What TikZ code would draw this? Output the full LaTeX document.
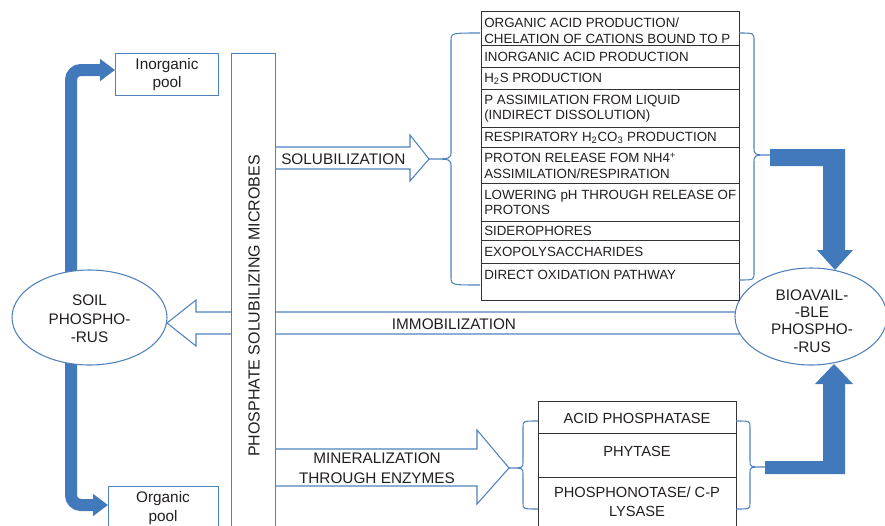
\documentclass[tikz,border=0pt]{standalone}
\usepackage{fontspec}
\setmainfont{Liberation Sans}
\usetikzlibrary{arrows.meta,shapes.geometric}
\definecolor{lineblue}{RGB}{79,129,189}
\definecolor{fatblue}{RGB}{66,121,187}
\definecolor{ink}{RGB}{35,31,32}

% curly brace: end x, spine x, tip x, top y, tip y, bottom y, corner size
\newcommand\bracepath[7]{%
  \draw[bl] (#1,#4) .. controls (#2,#4) .. (#2,#4+#7) -- (#2,#5-#7)
    .. controls (#2,#5) .. (#3,#5) .. controls (#2,#5) .. (#2,#5+#7)
    -- (#2,#6-#7) .. controls (#2,#6) .. (#1,#6);}

\begin{document}
\begin{tikzpicture}[x=0.75pt,y=-0.75pt,
  bl/.style={draw=lineblue, line width=0.8pt},
  box/.style={bl, fill=white, inner sep=0pt, anchor=north west},
  fatline/.style={draw=fatblue, line width=9pt, rounded corners=7.5pt,
    -{Triangle[length=11.25pt,width=16pt]}},
  fat/.style={fill=fatblue, draw=none},
  lbl/.style={text=ink, inner sep=0pt, align=center,
    font=\fontsize{11.5}{14}\selectfont},
  listrow/.style={draw=black!80, line width=0.9pt, fill=white, inner sep=0pt,
    anchor=north west, minimum width=193.5pt},
  rowtxt/.style={text=ink, inner sep=0pt, anchor=west, align=left,
    font=\fontsize{10}{11.6}\selectfont},
  enzrow/.style={draw=black!80, line width=0.9pt, fill=white, inner sep=0pt,
    anchor=north west, minimum width=148.5pt},
  enztxt/.style={text=ink, inner sep=0pt, align=center,
    font=\fontsize{11}{14}\selectfont}]
\clip (0,0) rectangle (885,525);

% soil phosphorus feeding the two pools
\draw[fatline] (71,300) -- (71,70) -- (115,70);
\draw[fatline] (71,340) -- (71,505) -- (108,505);

% hollow process arrows
\draw[bl] (760,312) -- (196,312) -- (196,300) -- (167,323) -- (196,346)
  -- (196,334) -- (760,334);
\draw[bl] (275,147) -- (410,147) -- (410,135) -- (429,159) -- (410,181)
  -- (410,169) -- (275,169);
\draw[bl] (275,449) -- (477,449) -- (477,430) -- (509,468) -- (477,504)
  -- (477,486) -- (275,486);

% microbes column and pools
\node[box, minimum width=33pt, minimum height=369pt] (microbes) at (231,53) {};
\node[box, minimum width=77.25pt, minimum height=31.5pt] (inorg) at (115,53) {};
\node[box, minimum width=82.5pt, minimum height=45pt] (org) at (108,486) {};

% phosphorus pools
\node[ellipse, bl, fill=white, inner sep=0pt, minimum width=116.25pt,
  minimum height=71.25pt] (soil) at (89.5,317.5) {};
\node[ellipse, bl, fill=white, inner sep=0pt, minimum width=114pt,
  minimum height=72.75pt] (bio) at (811,316.5) {};

% solubilization mechanisms
\node[listrow, minimum height=25.5pt]  (r1)  at (481,11)  {};
\node[listrow, minimum height=16.5pt]  (r2)  at (481,45)  {};
\node[listrow, minimum height=16.5pt]  (r3)  at (481,67)  {};
\node[listrow, minimum height=28.5pt]  (r4)  at (481,89)  {};
\node[listrow, minimum height=15pt]    (r5)  at (481,127) {};
\node[listrow, minimum height=27pt]    (r6)  at (481,147) {};
\node[listrow, minimum height=28.5pt]  (r7)  at (481,183) {};
\node[listrow, minimum height=14.25pt] (r8)  at (481,221) {};
\node[listrow, minimum height=17.25pt] (r9)  at (481,240) {};
\node[listrow, minimum height=27.75pt] (r10) at (481,263) {};

\node[rowtxt] (t1) at ([xshift=2.25pt,yshift=-1.5pt]r1.west)
  {ORGANIC ACID PRODUCTION/\\CHELATION OF CATIONS BOUND TO P};
\node[rowtxt] (t2) at ([xshift=2.25pt]r2.west) {INORGANIC ACID PRODUCTION};
\node[rowtxt] (t3) at ([xshift=2.25pt]r3.west) {H\textsubscript{2}S PRODUCTION};
\node[rowtxt] (t4) at ([xshift=2.25pt]r4.west)
  {P ASSIMILATION FROM LIQUID\\(INDIRECT DISSOLUTION)};
\node[rowtxt] (t5) at ([xshift=2.25pt]r5.west)
  {RESPIRATORY H\textsubscript{2}CO\textsubscript{3} PRODUCTION};
\node[rowtxt] (t6) at ([xshift=2.25pt]r6.west)
  {PROTON RELEASE FOM NH4\textsuperscript{+}\\ASSIMILATION/RESPIRATION};
\node[rowtxt] (t7) at ([xshift=2.25pt]r7.west)
  {LOWERING pH THROUGH RELEASE OF\\PROTONS};
\node[rowtxt] (t8) at ([xshift=2.25pt]r8.west) {SIDEROPHORES};
\node[rowtxt] (t9) at ([xshift=2.25pt]r9.west) {EXOPOLYSACCHARIDES};
\node[rowtxt] (t10) at (484,275) {DIRECT OXIDATION PATHWAY};

\bracepath{480}{451}{428}{33}{159}{285}{8}
\bracepath{739}{754}{770}{33}{155}{280}{8}

% enzymes
\node[enzrow, minimum height=24pt] (e1) at (538,401) {};
\node[enzrow, minimum height=33pt] (e2) at (538,433) {};
\node[enzrow, minimum height=51pt] (e3) at (538,477) {};
\node[enztxt] (et1) at (637,418) {ACID PHOSPHATASE};
\node[enztxt] (et2) at (637,451) {PHYTASE};
\node[enztxt] (et3) at (637,501.5) {PHOSPHONOTASE/ C-P\\LYSASE};

\bracepath{538}{523}{508}{421}{468}{509}{6}
\bracepath{736}{750}{765}{421}{467}{509}{6}

% flows into bioavailable phosphorus
\fill[fat] (770,149) -- (845,149) -- (845,250) -- (853,250) -- (835,270)
  -- (817,250) -- (823,250) -- (823,166) -- (770,166) -- cycle;
\fill[fat] (765,461) -- (823,461) -- (823,384) -- (815,384) -- (834,364)
  -- (853,384) -- (845,384) -- (845,474) -- (765,474) -- cycle;

% labels
\node[lbl] (inorgtxt) at (inorg.center) {Inorganic\\pool};
\node[lbl] (orgtxt) at (163,508) {Organic\\pool};
\node[lbl, font=\fontsize{12}{14}\selectfont, rotate=90] (microtxt)
  at (254,306) {PHOSPHATE SOLUBILIZING MICROBES};
\node[lbl] (soiltxt) at (89.5,319) {SOIL\\PHOSPHO-\\-RUS};
\node[lbl, font=\fontsize{11.5}{13}\selectfont] (biotxt) at (812,321)
  {BIOAVAIL-\\-BLE\\PHOSPHO-\\-RUS};
\node[lbl, anchor=west] (soltxt) at (281,159) {SOLUBILIZATION};
\node[lbl] (immtxt) at (454,324) {IMMOBILIZATION};
\node[lbl, font=\fontsize{11.5}{15}\selectfont] (mintxt) at (377,468)
  {MINERALIZATION\\THROUGH ENZYMES};
\end{tikzpicture}
\end{document}
